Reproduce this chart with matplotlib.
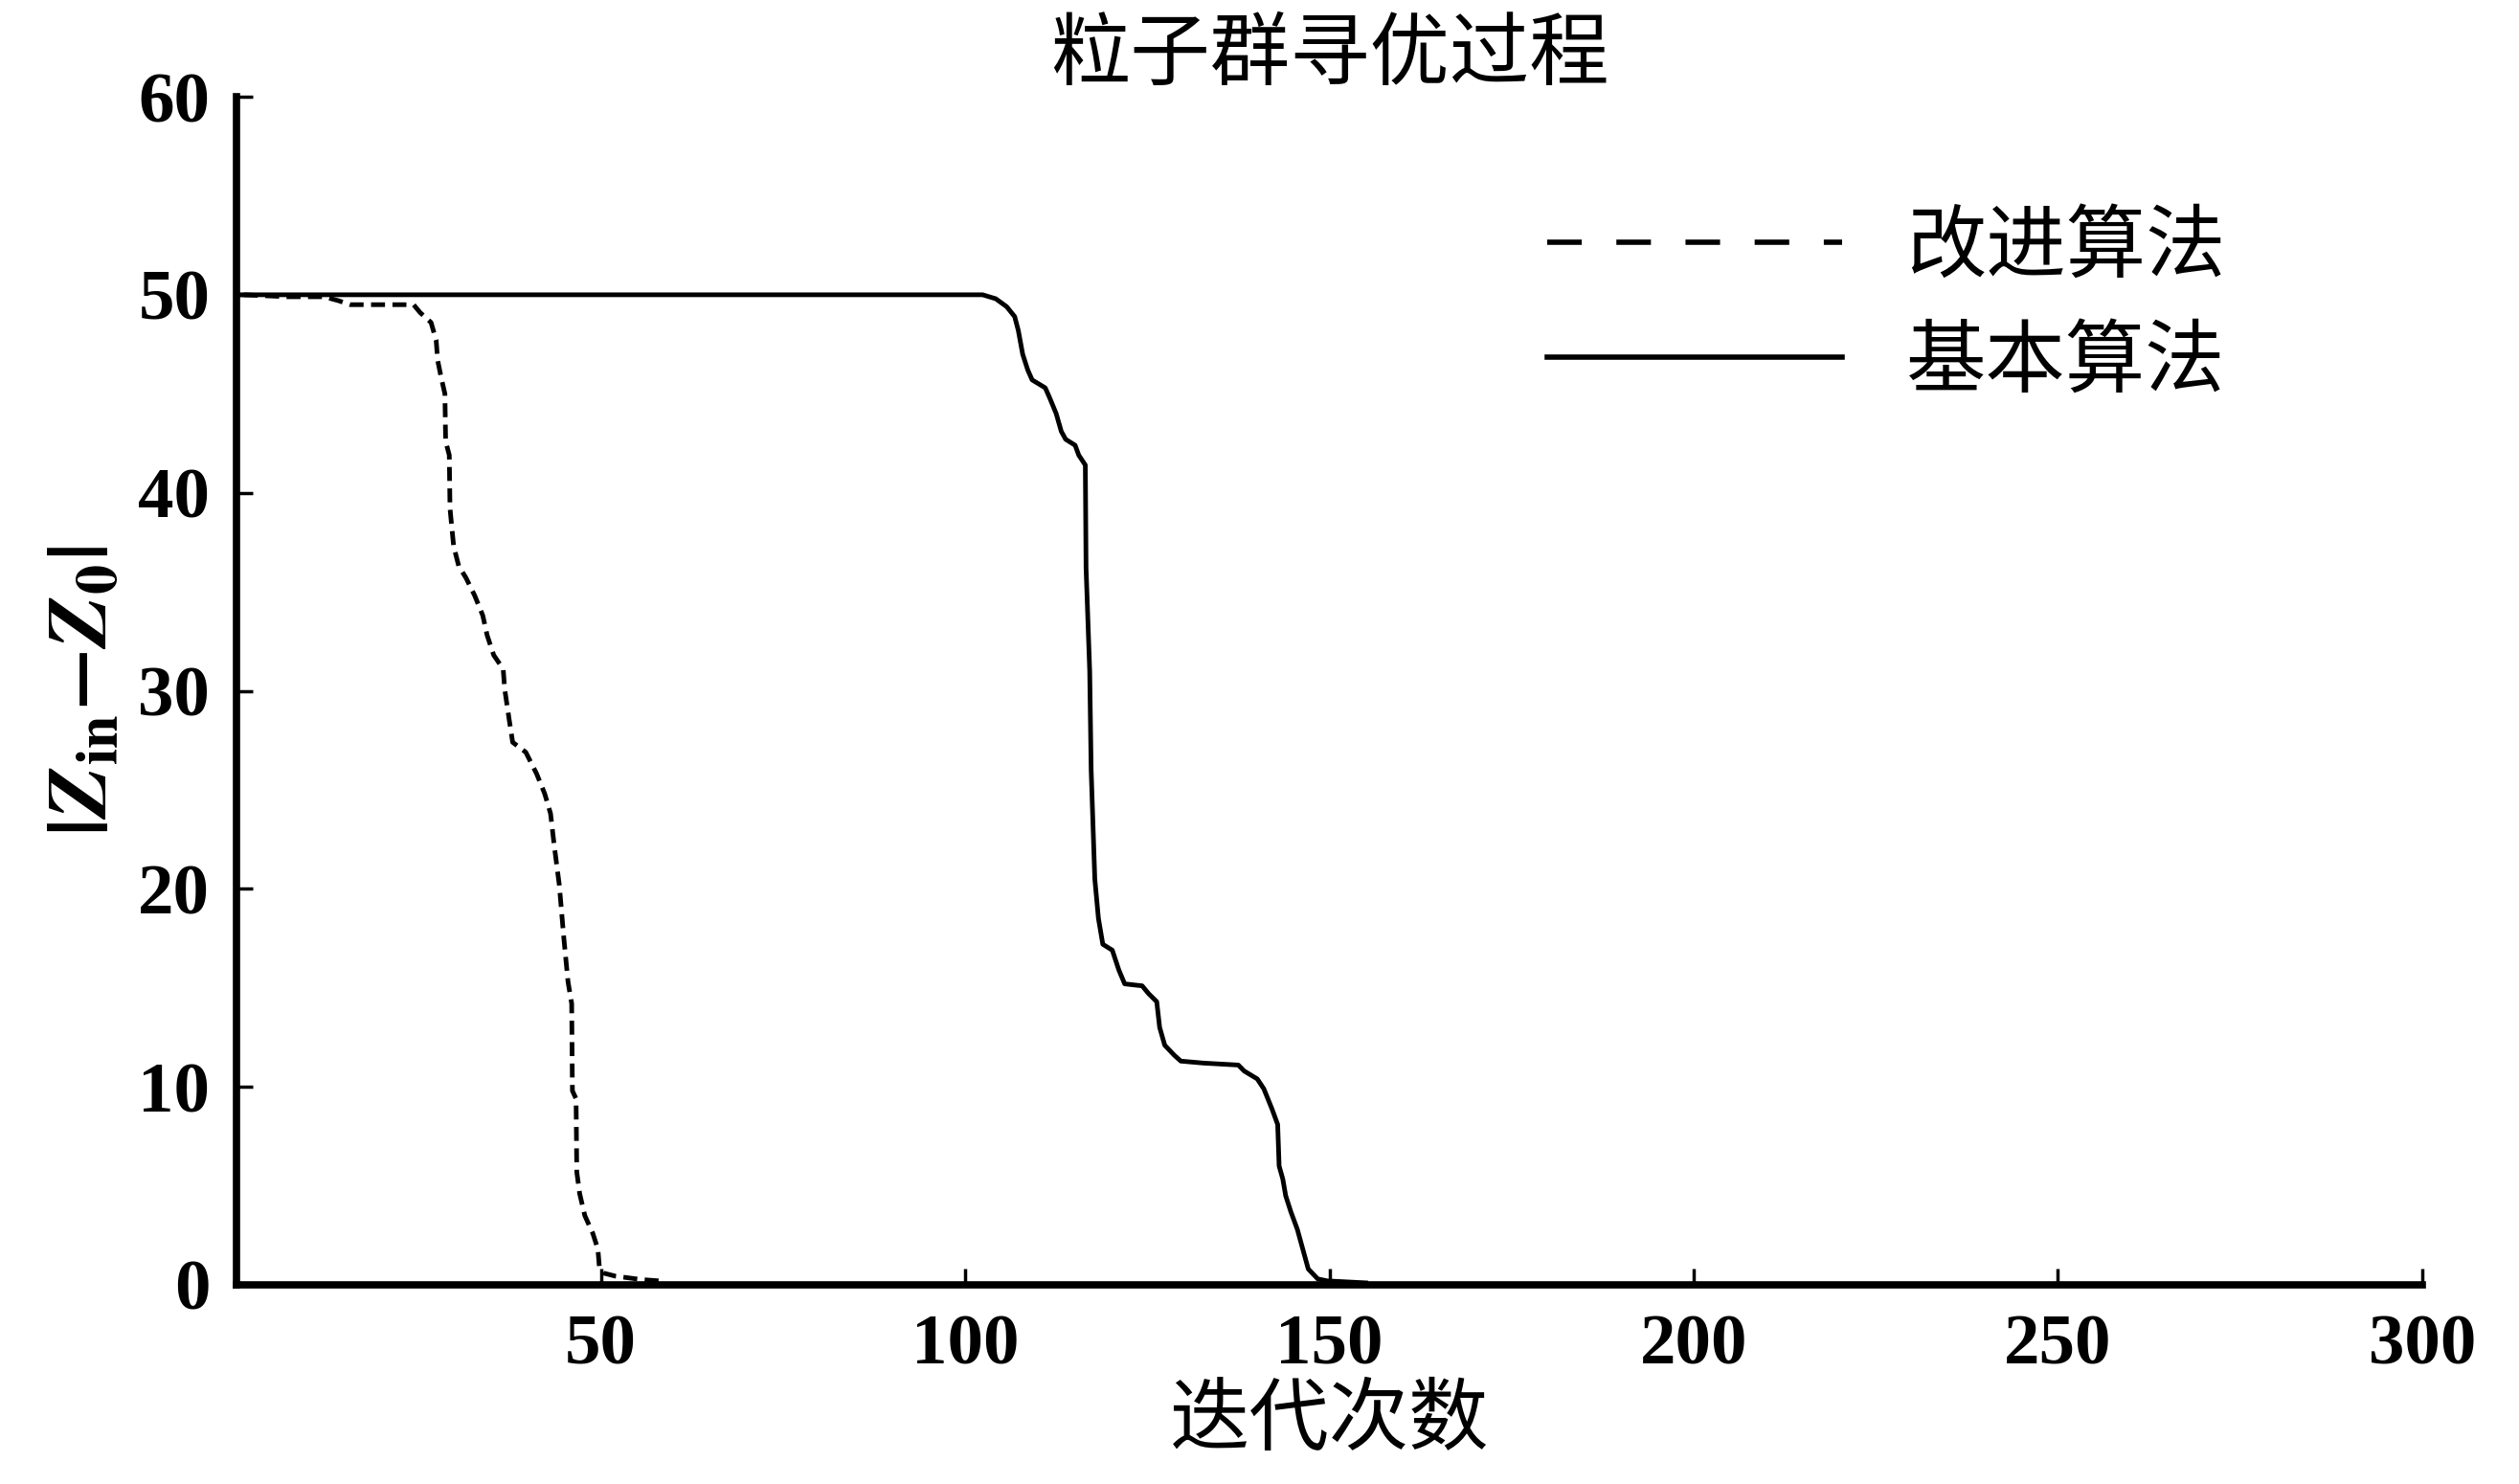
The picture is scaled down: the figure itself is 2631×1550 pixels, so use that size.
#! /bin/env python

# PSO convergence curves: improved vs basic algorithm.

import matplotlib
matplotlib.use("Agg")
import matplotlib.pyplot as plt
from matplotlib.lines import Line2D

plt.rcParams['font.family'] = ['Liberation Serif', 'Noto Sans CJK SC', 'DejaVu Sans']
plt.rcParams['mathtext.fontset'] = 'stix'

title = "粒子群寻优过程"
x_label = "迭代次数"
y_label = r"$\mathbf{|}\mathbfit{Z}_{\mathbf{in}}\mathbf{-}\mathbfit{Z}_{\mathbf{0}}\mathbf{|}$"
labels = ["改进算法", "基本算法"]

improved_x = [1, 7, 12, 14, 15.6, 24.3, 25.2, 26.7, 27.4, 27.6,
              28.1, 28.6, 28.7, 29.2, 29.3, 29.8, 30.5, 31.5, 32.7, 33.8,
              34.4, 35.3, 36.6, 36.8, 37.4, 37.9, 39.7, 41.2, 42.3, 43.1,
              43.6, 44.3, 44.9, 45.5, 46.0, 46.1, 46.6, 46.7, 47.1, 47.8,
              48.9, 49.6, 49.8, 50.3, 52, 55.5, 58]
improved_y = [50, 49.9, 49.9, 49.7, 49.5, 49.5, 49.1, 48.6, 47.7, 46.7,
              45.8, 45.0, 42.6, 41.9, 39.2, 37.3, 36.3, 35.7, 34.8, 33.8,
              32.8, 31.8, 31.1, 30.1, 28.6, 27.4, 26.9, 25.8, 24.8, 23.8,
              22.2, 20.2, 17.6, 15.3, 14.2, 9.8, 9.4, 5.7, 4.6, 3.5,
              2.6, 1.8, 0.9, 0.6, 0.44, 0.27, 0.2]

basic_x = [0, 102.4, 104.2, 105.7, 106.8, 107.3, 107.9, 108.6, 109.2, 111.0,
           111.6, 112.5, 113.2, 113.8, 115.1, 115.6, 116.5, 116.6, 117.1, 117.3,
           117.8, 118.3, 118.9, 120.2, 121.1, 121.9, 124.3, 125.2, 126.3, 126.7,
           127.4, 128.7, 129.6, 132.7, 137.5, 138.3, 140.1, 141.0, 142.1, 142.9,
           143.1, 143.6, 144.0, 144.7, 145.6, 146.2, 147.1, 148.4, 149.7, 155]
basic_y = [50, 50, 49.8, 49.4, 48.9, 48.2, 47.0, 46.2, 45.7, 45.3,
           44.8, 44.0, 43.1, 42.7, 42.4, 41.9, 41.4, 36.2, 31.0, 26.0,
           20.5, 18.5, 17.2, 16.9, 15.9, 15.2, 15.1, 14.7, 14.3, 13.0,
           12.1, 11.6, 11.3, 11.2, 11.1, 10.8, 10.4, 9.9, 8.9, 8.1,
           6.0, 5.35, 4.5, 3.7, 2.8, 2.0, 0.8, 0.3, 0.2, 0.1]

x_ticks = [50, 100, 150, 200, 250, 300]
y_ticks = [0, 10, 20, 30, 40, 50, 60]

CJK = 'Noto Sans CJK SC'


def show_graph(path):
    fig = plt.figure(figsize=(26.31, 15.5), dpi=100)
    ax = fig.add_axes([0.0939, 0.1342, 0.8677, 0.8006])

    ax.plot(improved_x, improved_y, color="black", lw=3.5,
            linestyle=(0, (3, 1.6)), zorder=2)
    ax.plot(basic_x, basic_y, color="black", lw=3.5, zorder=2)

    ax.set_xlim(0, 300)
    ax.set_ylim(0, 60)
    ax.set_xticks(x_ticks)
    ax.set_yticks(y_ticks)
    for s in ("top", "right"):
        ax.spines[s].set_visible(False)
    for s in ("left", "bottom"):
        ax.spines[s].set_linewidth(5.5)
    ax.tick_params(direction="in", length=12, width=2.5, pad=20,
                   labelsize=54)
    ax.tick_params(axis="x", pad=22)
    for t in ax.get_xticklabels() + ax.get_yticklabels():
        t.set_fontweight("bold")

    ax.set_title(title, family=CJK, fontsize=60, pad=8)
    ax.set_xlabel(x_label, family=CJK, fontsize=60, labelpad=0)
    ax.set_ylabel(y_label, fontsize=64, labelpad=10)

    handles = [Line2D([], [], color="black", lw=4, linestyle=(0, (6.5, 6.5))),
               Line2D([], [], color="black", lw=4)]
    ax.legend(handles, labels, loc="upper left", bbox_to_anchor=(0.585, 0.935),
              frameon=False, prop={'family': CJK, 'size': 60},
              handlelength=3.7, handletextpad=0.8, labelspacing=0.4,
              borderaxespad=0)

    fig.savefig(path, dpi=100)


if __name__ == "__main__":
    show_graph("out.png")
